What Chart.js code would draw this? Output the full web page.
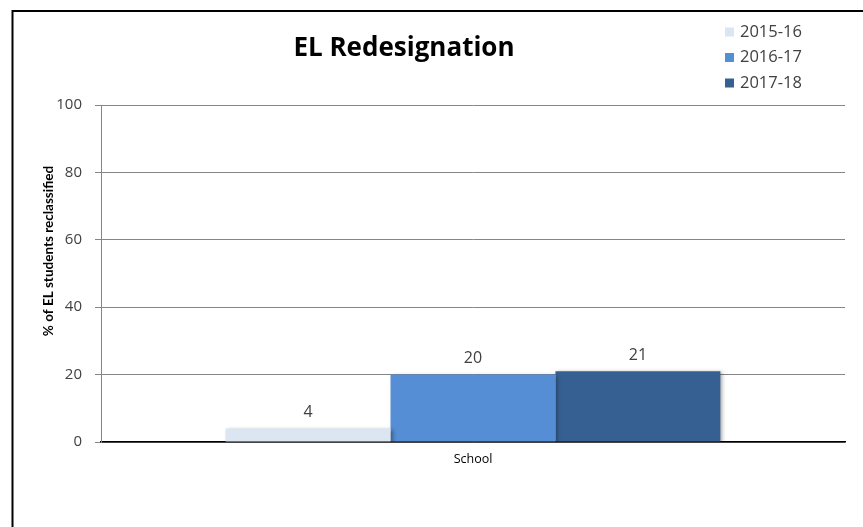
<!DOCTYPE html>
<html>
<head>
<meta charset="utf-8">
<script src="https://cdn.jsdelivr.net/npm/chart.js@4/dist/chart.umd.min.js"></script>
<style>
  html, body { margin: 0; padding: 0; background: #ffffff; }
  #wrap { width: 863px; height: 527px; position: relative; }
</style>
</head>
<body>
<div id="wrap"><canvas id="chart" width="863" height="527"></canvas></div>
<script>
// Chart content
const chartTitle = "EL Redesignation";
const yAxisTitle = "% of EL students reclassified";
const categories = ["School"];
const seriesNames = ["2015-16", "2016-17", "2017-18"];
const values2015_16 = [4];
const values2016_17 = [20];
const values2017_18 = [21];
const yTicks = [0, 20, 40, 60, 80, 100];

const seriesColors = ["#dce6f2", "#558ed5", "#376092"];
const textColor = "#404040";

// Outer frame lines (top and left edges of the chart box)
const framePlugin = {
  id: "frame",
  beforeDraw(chart) {
    const ctx = chart.ctx;
    ctx.save();
    ctx.fillStyle = "#ffffff";
    ctx.fillRect(0, 0, chart.width, chart.height);
    ctx.strokeStyle = "#000000";
    ctx.lineWidth = 2;
    ctx.beginPath();
    ctx.moveTo(12.5, chart.height);
    ctx.lineTo(12.5, 11);
    ctx.lineTo(chart.width, 11);
    ctx.stroke();
    ctx.restore();
  }
};

// Title, rotated axis title and legend
const textPlugin = {
  id: "texts",
  afterDraw(chart) {
    const ctx = chart.ctx;
    ctx.save();
    // chart title
    ctx.fillStyle = "#000000";
    ctx.font = "bold 26px 'Open Sans', sans-serif";
    ctx.textAlign = "center";
    ctx.textBaseline = "middle";
    ctx.fillText(chartTitle, 404, 49);

    // y axis title
    ctx.save();
    ctx.translate(49, 251);
    ctx.rotate(-Math.PI / 2);
    ctx.font = "bold 13.5px Lato, 'Open Sans', sans-serif";
    ctx.fillStyle = "#000000";
    ctx.fillText(yAxisTitle, 0, 0);
    ctx.restore();

    // legend
    ctx.font = "16.5px 'Open Sans', sans-serif";
    ctx.textAlign = "left";
    ctx.textBaseline = "middle";
    chart.data.datasets.forEach((ds, i) => {
      const y = 32 + i * 25.5;
      ctx.fillStyle = ds.backgroundColor;
      ctx.fillRect(725, y - 4.5, 9, 9);
      ctx.fillStyle = textColor;
      ctx.fillText(ds.label, 740, y);
    });
    ctx.restore();
  }
};

// Value labels placed above each bar
const valueLabelPlugin = {
  id: "valueLabels",
  afterDatasetsDraw(chart) {
    const ctx = chart.ctx;
    ctx.save();
    ctx.font = "16px 'Open Sans', sans-serif";
    ctx.fillStyle = textColor;
    ctx.textAlign = "center";
    ctx.textBaseline = "middle";
    chart.data.datasets.forEach((ds, i) => {
      const meta = chart.getDatasetMeta(i);
      meta.data.forEach((bar, j) => {
        ctx.fillText(String(ds.data[j]), bar.x, bar.y - 16);
      });
    });
    ctx.restore();
  }
};

// Soft shadow on the bars
const shadowPlugin = {
  id: "barShadow",
  beforeDatasetsDraw(chart) {
    const ctx = chart.ctx;
    ctx.save();
    ctx.shadowColor = "rgba(0,0,0,0.35)";
    ctx.shadowBlur = 4;
    ctx.shadowOffsetX = 2;
    ctx.shadowOffsetY = 1;
  },
  afterDatasetsDraw(chart) {
    chart.ctx.restore();
  }
};

const datasetValues = [values2015_16, values2016_17, values2017_18];

new Chart(document.getElementById("chart"), {
  type: "bar",
  data: {
    labels: categories,
    datasets: seriesNames.map((name, i) => ({
      label: name,
      data: datasetValues[i],
      backgroundColor: seriesColors[i],
      borderWidth: 0,
      categoryPercentage: 0.665,
      barPercentage: 1.0
    }))
  },
  options: {
    responsive: false,
    animation: false,
    devicePixelRatio: 1,
    layout: { padding: { left: 0, top: 105, right: 18, bottom: 0 } },
    plugins: {
      legend: { display: false },
      title: { display: false },
      tooltip: { enabled: false }
    },
    scales: {
      x: {
        grid: { display: false, drawTicks: false },
        border: { display: true, color: "#000000", width: 1.5 },
        ticks: {
          color: "#000000",
          font: { family: "'Open Sans', sans-serif", size: 12.5 },
          padding: 10
        },
        afterFit(scale) { scale.height = 85; }
      },
      y: {
        min: 0,
        max: 100,
        afterBuildTicks(scale) { scale.ticks = yTicks.map(v => ({ value: v })); },
        grid: {
          color: "#868686",
          lineWidth: 1,
          drawTicks: true,
          tickLength: 6,
          tickColor: "#868686"
        },
        border: { display: true, color: "#868686", width: 1 },
        ticks: {
          color: textColor,
          font: { family: "'Open Sans', sans-serif", size: 15 },
          padding: 13
        },
        afterFit(scale) { scale.width = 101; }
      }
    }
  },
  plugins: [framePlugin, shadowPlugin, valueLabelPlugin, textPlugin]
});
</script>
</body>
</html>
